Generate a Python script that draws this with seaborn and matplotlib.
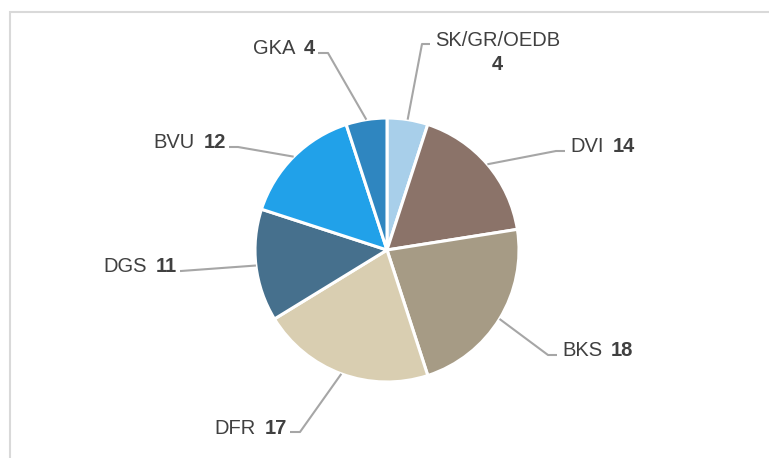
import numpy as np
import matplotlib
matplotlib.use("Agg")
import matplotlib.pyplot as plt
import seaborn as sns
from matplotlib.patches import Rectangle

# ---- data ----
categories = ["SK/GR/OEDB", "DVI", "BKS", "DFR", "DGS", "BVU", "GKA"]
values = [4, 14, 18, 17, 11, 12, 4]
colors = ["#a8cfea", "#8b7369", "#a69b85", "#d9ceb1", "#46708d", "#21a1e9", "#2f86c0"]

# ---- layout (pixel coords, y down) ----
W, H = 769, 458
CX, CY, R = 387, 250, 132
# elbow point, horizontal end point, text anchor side
layout = {
    "SK/GR/OEDB": dict(elbow=(422, 44), end=(430, 44), side="top"),
    "DVI": dict(elbow=(556, 151), end=(565, 151), side="right"),
    "BKS": dict(elbow=(548, 355), end=(557, 355), side="right"),
    "DFR": dict(elbow=(300, 432), end=(290, 432), side="left"),
    "DGS": dict(elbow=(181, 271), end=(180, 271), side="left"),
    "BVU": dict(elbow=(238, 147), end=(229, 147), side="left"),
    "GKA": dict(elbow=(328, 53), end=(318, 53), side="left"),
}

sns.set_theme(style="white")
plt.rcParams["font.family"] = ["Liberation Sans", "DejaVu Sans"]

fig = plt.figure(figsize=(W / 100, H / 100), dpi=100)
ax = fig.add_axes([0, 0, 1, 1])
ax.set_xlim(0, W)
ax.set_ylim(0, H)
ax.axis("off")

def P(x, y):
    return x, H - y

# frame
ax.add_patch(Rectangle(P(10, 470), 800, 458, fill=False, edgecolor="#d9d9d9", lw=1.5))

wedges, _ = ax.pie(values, colors=colors, startangle=90, counterclock=False,
                   center=P(CX, CY), radius=R, frame=True,
                   wedgeprops=dict(edgecolor="white", linewidth=2.2))
ax.set_xlim(0, W)
ax.set_ylim(0, H)
ax.set_aspect("equal")
ax.axis("off")

fig.canvas.draw()
renderer = fig.canvas.get_renderer()
txtcol = "#404040"
linecol = "#a6a6a6"
fs = 14.5

for w, cat, val in zip(wedges, categories, values):
    ang = np.deg2rad((w.theta1 + w.theta2) / 2)
    sx, sy = CX + R * np.cos(ang), CY - R * np.sin(ang)
    L = layout[cat]
    ex, ey = L["elbow"]
    hx, hy = L["end"]
    xs = [sx, ex, hx]
    ys = [H - sy, H - ey, H - hy]
    ax.plot(xs, ys, color=linecol, lw=1.5, solid_capstyle="butt")
    side = L["side"]
    if side == "top":
        t = ax.text(hx + 5, H - (hy - 3), cat, ha="left", va="center", fontsize=fs, color=txtcol)
        fig.canvas.draw()
        bb = t.get_window_extent(renderer)
        ax.text((bb.x0 + bb.x1) / 2, H - (hy + 20), str(val), ha="center", va="center",
                fontsize=fs, color=txtcol, fontweight="bold")
    elif side == "right":
        t = ax.text(hx + 5, H - (hy - 4), cat, ha="left", va="center", fontsize=fs, color=txtcol)
        fig.canvas.draw()
        bb = t.get_window_extent(renderer)
        ax.text(bb.x1 + 9, H - (hy - 4), str(val), ha="left", va="center",
                fontsize=fs, color=txtcol, fontweight="bold")
    else:
        n = ax.text(hx - 3, H - (hy - 4), str(val), ha="right", va="center", fontsize=fs,
                    color=txtcol, fontweight="bold")
        fig.canvas.draw()
        bb = n.get_window_extent(renderer)
        ax.text(bb.x0 - 9, H - (hy - 4), cat, ha="right", va="center",
                fontsize=fs, color=txtcol)

fig.savefig("out.png", dpi=100)
